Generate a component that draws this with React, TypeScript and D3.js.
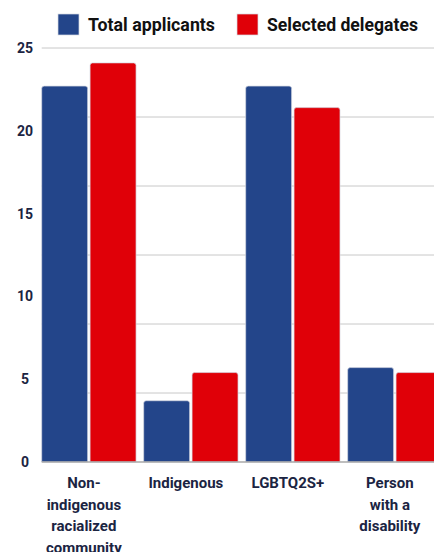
import React from "react";
import * as d3 from "d3";

const categories = ["Non-indigenous racialized community", "Indigenous", "LGBTQ2S+", "Person with a disability"];
const categoryLines = [["Non-", "indigenous", "racialized", "community"], ["Indigenous"], ["LGBTQ2S+"], ["Person", "with a", "disability"]];
const seriesNames = ["Total applicants", "Selected delegates"];
const totalApplicants = [22.7, 3.7, 22.7, 5.7];
const selectedDelegates = [24.1, 5.4, 21.4, 5.4];
const yTicks = [0, 5, 10, 15, 20, 25];
const gridCount = 6;

const W = 434;
const H = 552;
const BLUE = "#23458a";
const RED = "#e00008";
const TEXT = "#1b2442";
const FONT = "Roboto, 'Noto Sans', sans-serif";

function topRounded(x: number, y: number, w: number, h: number, r: number) {
  const rr = Math.min(r, h, w / 2);
  return `M${x},${y + h}V${y + rr}Q${x},${y} ${x + rr},${y}H${x + w - rr}Q${x + w},${y} ${x + w},${y + rr}V${y + h}Z`;
}

export default function App() {
  const x0 = d3.scaleBand<string>().domain(categories).range([41.7, 442]).paddingInner(0.075).paddingOuter(0);
  const x1 = d3.scaleBand<string>().domain(seriesNames).range([0, x0.bandwidth()]).paddingInner(0.05);
  const y = d3.scaleLinear().domain([0, 25]).range([462, 48]);
  const color = d3.scaleOrdinal<string, string>().domain(seriesNames).range([BLUE, RED]);
  const values = [totalApplicants, selectedDelegates];
  const gridVals = d3.range(1, gridCount + 1).map((i) => (25 * i) / gridCount);

  return (
    <svg width={W} height={H} style={{ position: "absolute", left: 0, top: 0, overflow: "hidden", background: "#fff" }} fontFamily={FONT}>
      <rect x={0} y={0} width={W} height={H} fill="#fff" />
      {gridVals.map((v, i) => (
        <line key={i} x1={41.7} x2={W} y1={y(v)} y2={y(v)} stroke="#c8c8c8" strokeWidth={1} />
      ))}
      {yTicks.map((t) => (
        <text key={t} x={25} y={y(t)} dy="0.35em" textAnchor="middle" fontSize={14} fontWeight={700} fill={TEXT}>
          {t}
        </text>
      ))}
      {categories.map((c, ci) => (
        <g key={c} transform={`translate(${x0(c)},0)`}>
          {seriesNames.map((s, si) => {
            const v = values[si][ci];
            const bx = x1(s) as number;
            const by = y(v);
            return (
              <path key={s} d={topRounded(bx, by, x1.bandwidth(), y(0) - by, 2.5)} fill={color(s)} stroke="#d6d9e2" strokeWidth={0.7} />
            );
          })}
        </g>
      ))}
      <line x1={41.7} x2={W} y1={y(0)} y2={y(0)} stroke="#a8a8a8" strokeWidth={1.5} />
      {categories.map((c, ci) => (
        <text key={c} x={(x0(c) as number) + x0.bandwidth() / 2 - 5} y={488} textAnchor="middle" fontSize={15} fontWeight={700} fill={TEXT}>
          {categoryLines[ci].map((ln, li) => (
            <tspan key={li} x={(x0(c) as number) + x0.bandwidth() / 2 - 5} dy={li === 0 ? 0 : 21.5}>
              {ln}
            </tspan>
          ))}
        </text>
      ))}
      <g>
        <rect x={58} y={14} width={21} height={21} fill={BLUE} stroke="#d6d9e2" strokeWidth={0.7} />
        <text x={88} y={31} fontSize={18} fontWeight={700} fill="#111" textLength={127} lengthAdjust="spacingAndGlyphs">
          {seriesNames[0]}
        </text>
        <rect x={237} y={14} width={21} height={21} fill={RED} stroke="#d6d9e2" strokeWidth={0.7} />
        <text x={267} y={31} fontSize={18} fontWeight={700} fill="#111" textLength={151} lengthAdjust="spacingAndGlyphs">
          {seriesNames[1]}
        </text>
      </g>
    </svg>
  );
}
